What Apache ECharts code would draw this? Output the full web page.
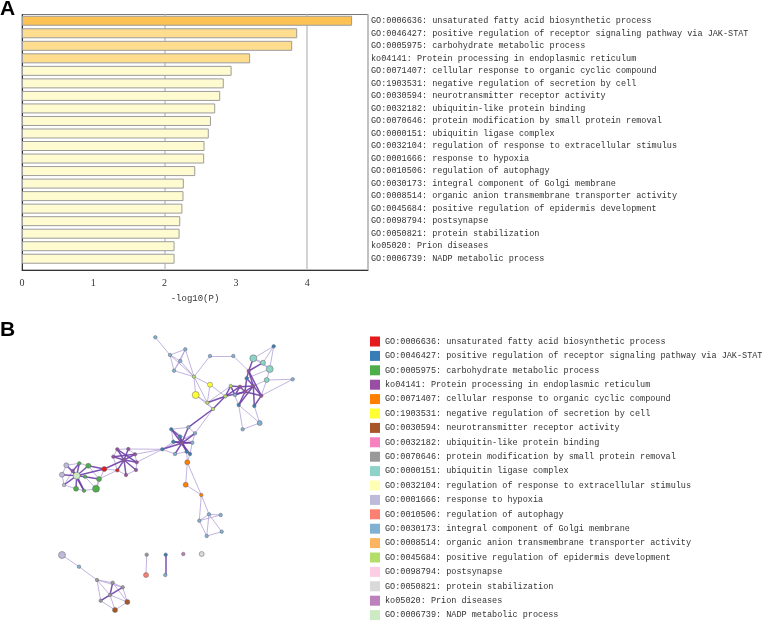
<!DOCTYPE html>
<html><head><meta charset="utf-8">
<script src="https://cdn.jsdelivr.net/npm/echarts@6/dist/echarts.min.js"></script>
<style>html,body{margin:0;padding:0;background:#fff}#c{width:768px;height:623px}</style>
</head><body><div id="c"></div>
<script>
const terms = [
 "GO:0006636: unsaturated fatty acid biosynthetic process",
 "GO:0046427: positive regulation of receptor signaling pathway via JAK-STAT",
 "GO:0005975: carbohydrate metabolic process",
 "ko04141: Protein processing in endoplasmic reticulum",
 "GO:0071407: cellular response to organic cyclic compound",
 "GO:1903531: negative regulation of secretion by cell",
 "GO:0030594: neurotransmitter receptor activity",
 "GO:0032182: ubiquitin-like protein binding",
 "GO:0070646: protein modification by small protein removal",
 "GO:0000151: ubiquitin ligase complex",
 "GO:0032104: regulation of response to extracellular stimulus",
 "GO:0001666: response to hypoxia",
 "GO:0010506: regulation of autophagy",
 "GO:0030173: integral component of Golgi membrane",
 "GO:0008514: organic anion transmembrane transporter activity",
 "GO:0045684: positive regulation of epidermis development",
 "GO:0098794: postsynapse",
 "GO:0050821: protein stabilization",
 "ko05020: Prion diseases",
 "GO:0006739: NADP metabolic process"
];
const logP = [4.63,3.86,3.79,3.20,2.94,2.83,2.78,2.71,2.65,2.62,2.56,2.555,2.43,2.27,2.265,2.25,2.22,2.21,2.14,2.14];

// network (layout coordinates of enrichment-term nodes)
const nodeX = [155.3,170,185.3,180.3,174,194,210,233.3,210,195.7,207.3,213,225.3,230.7,253.3,263,269.7,273.7,266.7,292.7,248.7,246.7,253.3,245,238.7,254.3,261.3,240,235,259.7,242.7,171.3,188.3,195,180,181.7,173.3,162.3,175,186.7,192.3,190,187.3,185.7,201.3,209,220.7,199.3,221.7,206.7,117.3,128.3,135,113.3,124,136.7,136,117.3,126,104.3,66.3,79.3,88.3,62,76.7,85,99,64,76,84,96,72.7,62,79,97,112.7,122.7,100.7,110,127.3,115,146.7,146,165.7,165.3,183.3,201.7];
const nodeY = [337.3,355,349.3,361,370.7,376.7,356,356,384.7,395,402.7,409,396.3,386,358.3,362.7,369,346.3,380,379.3,371,378.3,386,391.7,405,406,395.7,386.7,395,423,429.3,429.3,427.3,433.3,436.7,443.3,441.7,449.3,454,451.7,442.7,454,462.3,484.7,495,514.3,515,520.7,531.7,536,449.3,449,454.3,456.7,460,462.3,470,470.3,475,469,465.3,463.3,465.7,474.7,475.7,476.7,479,485,488.7,490.7,488.7,471,555,566.7,580,582.7,587.3,600.7,595,602,610,554.7,575,554.7,575,554,554];
const nodeCat = [13,13,13,13,13,15,13,13,5,5,15,15,15,15,9,9,9,1,9,13,3,1,3,3,1,1,3,3,13,13,13,1,13,13,1,3,1,1,13,1,13,1,4,4,4,13,13,13,13,13,3,3,3,3,3,3,3,0,3,0,11,2,2,11,19,2,2,11,2,2,2,3,11,13,8,8,8,8,8,6,6,8,12,1,13,18,17];
const nodeWeight = [1,1,1,1,1,1,1,1,2,3,1,1,1,1,3,2,3,1,2,1,1,1,1,1,1,1,1,1,1,2,1,1,1,1,1,1,1,1,1,1,1,1,2,2,1,1,1,1,1,1,1,1,1,1,1,1,1,1,1,2,2,1,2,2,3,1,2,1,2,1,3,1,3,1,1,1,1,1,1,2,2,1,2,1,1,1,2];
const weakEdges = [
 [0,1],[1,2],[1,3],[1,4],[2,3],[2,4],[3,4],[2,5],[1,5],[4,5],[3,5],
 [5,6],[6,7],[7,20],[5,10],[5,8],[5,9],
 [9,10],[8,10],[10,11],[9,11],[8,12],[10,13],[11,33],
 [16,21],[14,15],[15,16],[14,16],[17,14],[17,15],[17,16],[18,16],[18,22],[19,18],[19,26],[26,18],[24,29],[25,29],[29,30],[24,30],[13,24],
 [31,32],[32,33],[33,40],[40,41],[41,39],[39,38],[38,37],[37,36],[36,31],[37,33],[31,40],
 [37,52],[37,51],[37,55],
 [41,42],[39,42],[42,43],[43,44],[42,44],[44,45],[44,47],
 [45,46],[45,47],[46,47],[45,49],[47,49],[48,49],[45,48],
 [50,51],[51,52],[52,55],[55,56],[56,58],[58,57],[57,53],[53,50],[59,57],
 [59,70],[66,57],
 [60,63],[63,67],[67,68],[68,69],[69,70],[70,66],[66,62],[62,61],[61,60],[65,70],[60,71],[67,71],
 [72,73],[73,74],[74,75],[74,76],[74,77],[74,78],[75,76],[76,79],[77,78],[78,79],[78,80],[79,80],[77,80],[75,79],
 [81,82]
];
const strongEdges = [
 [10,12],[11,12],[12,13],[13,27],[12,27],[12,23],[11,32],
 [20,21],[20,22],[21,22],[21,23],[22,23],[22,26],[23,26],[20,26],[24,22],[24,23],[25,22],[25,26],[27,23],[27,22],[28,23],[28,27],[15,20],[14,20],[13,28],
 [31,34],[31,35],[32,35],[33,35],[34,35],[36,35],[37,35],[38,35],[39,35],[40,35],[41,35],[34,39],[36,40],
 [54,50],[54,51],[54,52],[54,53],[54,55],[54,56],[54,57],[54,58],[50,55],[53,52],[59,54],
 [59,62],[59,64],
 [64,60],[64,61],[64,62],[64,63],[64,65],[64,67],[64,68],[64,69],[64,71],[71,61],[71,69],[65,66],
 [75,78],[76,77],
 [83,84]
];

const palette = ['#E41A1C','#377EB8','#4DAF4A','#984EA3','#FF7F00','#FFFF33','#A65628','#F781BF','#999999','#8DD3C7',
 '#FFFFB3','#BEBADA','#FB8072','#80B1D3','#FDB462','#B3DE69','#FCCDE5','#D9D9D9','#BC80BD','#CCEBC5'];
const MONO = '"Liberation Mono", "DejaVu Sans Mono", monospace';

const xMin = Math.min(...nodeX), xMax = Math.max(...nodeX);
const yMin = Math.min(...nodeY), yMax = Math.max(...nodeY);
const sizeOf = w => [0, 3.5, 5, 7][w];

const nodes = nodeX.map((x, i) => ({ name: 'n' + i, x: x, y: nodeY[i], category: nodeCat[i], symbolSize: sizeOf(nodeWeight[i]) }));
const links = weakEdges.map(e => ({ source: e[0], target: e[1], lineStyle: { color: '#B3A0D8', width: 1, opacity: 0.8 } }))
 .concat(strongEdges.map(e => ({ source: e[0], target: e[1], lineStyle: { color: '#6E3FAA', width: 1.5, opacity: 0.9 } })));

const barColor = v => v >= 4 ? '#FCC254' : (v >= 3 ? '#FEDE8E' : '#FFFBD0');
const PW = 346, XMAX = 4.853;

const chart = echarts.init(document.getElementById('c'), null, { renderer: 'canvas' });
chart.setOption({
 animation: false,
 title: [
  { text: 'A', left: 0, top: -1, padding: 0, textStyle: { fontFamily: '"Liberation Sans", Arial', fontWeight: 'bold', fontSize: 21, color: '#000' } },
  { text: 'B', left: 0, top: 320, padding: 0, textStyle: { fontFamily: '"Liberation Sans", Arial', fontWeight: 'bold', fontSize: 21, color: '#000' } }
 ],
 grid: [
  { left: 22, top: 14.5, width: PW, height: 255.5, show: true, borderColor: '#777', borderWidth: 1, containLabel: false },
  { left: 22, top: 14.5, width: PW, height: 250.5, containLabel: false }
 ],
 xAxis: [
  { gridIndex: 0, type: 'value', min: 0, max: XMAX, interval: 1,
    axisLine: { show: true, lineStyle: { color: '#333' } }, axisTick: { show: false }, splitLine: { show: false },
    axisLabel: { margin: 8, fontFamily: '"Liberation Serif", serif', fontSize: 10, color: '#333', showMaxLabel: false },
    name: '-log10(P)', nameLocation: 'middle', nameGap: 24,
    nameTextStyle: { fontFamily: MONO, fontSize: 9, color: '#333' } },
  { gridIndex: 0, type: 'value', min: 0, max: XMAX, interval: 2,
    axisLine: { show: false }, axisTick: { show: false }, axisLabel: { show: false },
    splitLine: { show: true, lineStyle: { color: '#C4C4C4', width: 1.5 } } },
  { gridIndex: 1, type: 'value', min: 0, max: XMAX, show: false, splitLine: { show: false } }
 ],
 yAxis: [
  { gridIndex: 0, type: 'value', min: 0, max: 1, axisLine: { show: true, lineStyle: { color: '#333' } },
    axisTick: { show: false }, axisLabel: { show: false }, splitLine: { show: false } },
  { gridIndex: 1, type: 'category', inverse: true, data: terms, position: 'right',
    axisLine: { show: false }, axisTick: { show: false }, splitLine: { show: false },
    axisLabel: { margin: 3, align: 'left', fontFamily: MONO, fontSize: 8.5, color: '#333', padding: [2, 0, 0, 0] } }
 ],
 legend: {
  data: terms, orient: 'vertical', left: 370, top: 336.5, bottom: 0, icon: 'rect',
  itemWidth: 10, itemHeight: 10, itemGap: 4.4, selectedMode: false, padding: 0,
  itemStyle: { borderWidth: 0 },
  textStyle: { fontFamily: MONO, fontSize: 8.5, color: '#333', lineHeight: 10, padding: 0 }
 },
 series: [
  { type: 'bar', name: 'bars', xAxisIndex: 2, yAxisIndex: 1, barWidth: 10,
    data: logP.map(v => ({ value: v, itemStyle: { color: barColor(v) } })),
    itemStyle: { borderColor: '#9C9C9C', borderWidth: 1 }, silent: true },
  { type: 'graph', layout: 'none', roam: false, silent: true,
    left: xMin, top: yMin, width: xMax - xMin, height: yMax - yMin,
    categories: terms.map((t, i) => ({ name: t, itemStyle: { color: palette[i] } })),
    data: nodes, links: links,
    itemStyle: { borderColor: '#666', borderWidth: 0.5 },
    label: { show: false }, emphasis: { disabled: true } }
 ]
});
</script></body></html>
